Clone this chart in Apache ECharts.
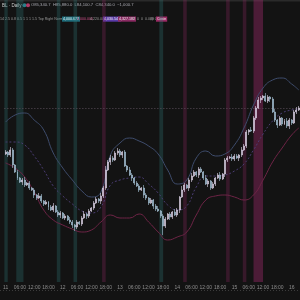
<!DOCTYPE html>
<html><head><meta charset="utf-8">
<script src="https://cdn.jsdelivr.net/npm/echarts@6/dist/echarts.min.js"></script>
<style>html,body{margin:0;padding:0;background:#131313;}#c{width:300px;height:300px;}</style>
</head><body><div id="c"></div>
<script>
// ---- data ----
const days = ['11','12','13','14','15','16'];
const hours = ['00','01','02','03','04','05','06','07','08','09','10','11','12','13','14','15','16','17','18','19','20','21','22','23'];
const firstOpen = 83200;
const closes = [83250,83175,83300,82925,82750,82600,82500,82550,82425,82475,
82350,82300,82175,82100,82150,82025,81950,82000,81875,81800,
81900,81750,81675,81725,81600,81650,81550,81500,81425,81375,
81500,81450,81600,81700,81650,81775,81850,81975,82075,82025,
82150,82350,82800,83000,83100,83050,83225,83275,83175,83250,
82900,82800,82675,82600,82475,82400,82300,82350,82175,82100,
81975,82050,81900,81825,81775,81650,81400,81575,81700,81625,
81750,81675,81800,82125,82300,82425,82350,82550,82650,82750,
82675,82825,82750,82600,82450,82525,82350,82450,82600,82675,
82575,82700,83050,83100,83125,83075,83150,83100,83175,83300,
83400,83750,83800,83775,84100,84350,84550,84600,84650,84525,
84625,84575,84250,84050,83925,84100,83950,84025,83900,84050,
83975,84250,84300,84350];
const upWick = [50,25,75,50,25,50,25,50,75,25, 50,25,50,25,75,50,25,50,25,50,
75,25,50,50,25,50,25,75,50,25, 50,25,50,75,25,50,25,50,50,25,
75,50,100,50,75,50,50,75,50,25, 50,25,75,50,25,50,50,25,75,50,
25,50,25,50,75,25,50,50,25,50, 25,75,50,25,100,50,25,50,75,50,
25,50,50,25,75,50,25,50,25,50, 75,25,50,50,25,75,50,50,25,75,
50,50,25,75,50,50,75,50,25,75, 50,25,50,75,25,50,25,50,75,50, 25,50,75,50];
const lowWick = [25,50,50,75,25,50,25,75,50,25, 50,25,75,50,25,50,50,25,75,25,
50,25,50,75,25,50,25,50,75,100, 50,25,50,25,75,50,25,50,25,50,
75,50,50,25,75,50,25,50,50,75, 25,50,25,75,50,25,50,25,75,50,
50,25,75,50,25,50,225,50,25,75, 50,25,50,75,25,50,25,75,50,25,
50,75,25,50,25,75,50,25,50,25, 50,25,75,50,25,50,50,25,75,50,
25,50,75,25,50,50,25,75,50,25, 50,75,25,50,75,25,50,25,50,75, 50,25,50,25];
const bandIdx = [0,4,8,12,16,20,24,28,32,36,40,44,48,52,56,60,64,68,72,76,80,84,88,92,96,100,104,108,112,116,120,123];
const upperBand = [84000,84175,84225,84050,83800,83225,82850,82550,82275,82125,82250,83175,83475,83600,83525,83400,83200,82800,82450,82550,83100,83275,83150,83200,83425,83850,84425,84850,85050,85100,84950,84800];
const lowerBand = [82975,82850,82625,82250,81800,81550,81425,81325,81250,81300,81500,81675,81600,81600,81700,81500,81250,81050,81125,81250,81675,82050,82150,82175,82125,82050,82175,82550,83000,83350,83675,83850];
const midBand = [83500,83500,83425,83150,82800,82400,82150,81950,81775,81725,81875,82425,82550,82600,82625,82450,82225,81925,81800,81900,82375,82650,82650,82675,82775,82950,83300,83700,84025,84225,84300,84325];
// highlighted sessions: [from candle, to candle, kind]
const stripes = [[0,0.4,'t'],[5,7,'t'],[22,22.5,'t'],[29,29.5,'t'],[41,41.5,'p'],[65,65.6,'t'],[75,75.5,'p'],[93,93.5,'p'],[100,100.5,'p'],[104.5,107.5,'P']];

// ---- build ----
const cats = [];
days.forEach(d => hours.forEach(h => cats.push(d + ' ' + h)));
const categories = cats.slice(0, closes.length);
const ohlc = closes.map((c, i) => {
  const o = i === 0 ? firstOpen : closes[i - 1];
  return [o, c, Math.min(o, c) - lowWick[i], Math.max(o, c) + upWick[i]];
});
const pair = arr => arr.map((v, k) => [bandIdx[k], v]);
const stripeColor = {t:'rgba(45,120,120,0.30)', p:'rgba(140,40,95,0.30)', P:'rgba(155,40,105,0.42)'};
const markData = stripes.map(s => [{xAxis: s[0] - 0.5, itemStyle:{color: stripeColor[s[2]]}}, {xAxis: s[1] + 0.5}]);

const chart = echarts.init(document.getElementById('c'), null, {renderer:'canvas'});
chart.setOption({
  backgroundColor: '#131313',
  animation: false,
  grid: {left: 0, right: 0, top: 0, bottom: 18},
  xAxis: [{
    type: 'category', data: categories, boundaryGap: true,
    axisLine: {show: false}, axisTick: {show: false}, splitLine: {show: false},
    axisLabel: {interval: 5, color: '#8e8e8e', fontSize: 5, margin: 3, fontFamily: 'Liberation Sans',
      formatter: v => { const p = v.split(' '); return p[1] === '00' ? p[0] : p[1] + ':00'; }}
  }, {
    type: 'value', min: -0.5, max: closes.length - 0.5, show: false
  }],
  yAxis: {type: 'value', min: 80000, max: 87050, show: false, splitLine: {show: false}},
  series: [
    {type: 'line', xAxisIndex: 1, data: pair(lowerBand), stack: 'bb', smooth: true, symbol: 'none',
      lineStyle: {opacity: 0}, z: 1,
      markArea: {silent: true, data: markData}},
    {type: 'line', xAxisIndex: 1, data: pair(upperBand.map((u, k) => u - lowerBand[k])), stack: 'bb', smooth: true, symbol: 'none',
      lineStyle: {opacity: 0}, areaStyle: {color: 'rgba(90,60,150,0.26)'}, z: 1},
    {type: 'line', xAxisIndex: 1, data: pair(upperBand), smooth: true, symbol: 'none',
      lineStyle: {color: '#3e4c6c', width: 1}, z: 3},
    {type: 'line', xAxisIndex: 1, data: pair(lowerBand), smooth: true, symbol: 'none',
      lineStyle: {color: '#6e2446', width: 1}, z: 3},
    {type: 'line', xAxisIndex: 1, data: pair(midBand), smooth: true, symbol: 'none',
      lineStyle: {color: '#4a3c72', width: 1, type: [2, 2]}, z: 3},
    {type: 'candlestick', data: ohlc, barWidth: '62%', z: 5,
      itemStyle: {color: '#ddd3e8', color0: '#a8c4d8', borderColor: '#ddd3e8', borderColor0: '#a8c4d8', borderWidth: 0.6},
      markLine: {silent: true, symbol: 'none', label: {show: false},
        lineStyle: {color: '#5a4e5a', type: [1, 2], width: 1},
        data: [{yAxis: closes[closes.length - 1]}]}}
  ],
  graphic: [
    {type: 'rect', shape: {x: 0, y: 0, width: 300, height: 1.5}, style: {fill: '#2a2a2a'}},
    {type: 'text', x: 2, y: 3, style: {text: 'BL · Daily', fill: '#cfcfcf', fontSize: 4.5, fontFamily: 'Liberation Sans'}},
    {type: 'circle', shape: {cx: 24.5, cy: 5.2, r: 2}, style: {fill: '#2a7f8a'}},
    {type: 'circle', shape: {cx: 28, cy: 5.2, r: 2}, style: {fill: '#b03a64'}},
    {type: 'text', x: 31, y: 3, style: {text: 'O85,340.7  H85,880.0  L84,100.7  C84,340.0  −1,000.7', fill: '#a8a8b0', fontSize: 4.2, fontFamily: 'Liberation Sans'}},
    {type: 'text', x: 0, y: 17, style: {text: '14 2.5 0.8 0.5 1 1 1 1.5 Top Right Normal', fill: '#9a9a9a', fontSize: 3.6, fontFamily: 'Liberation Sans'}},
    {type: 'text', x: 62, y: 16.5, style: {text: '4,000.677', fill: '#e8f4f8', backgroundColor: '#1f6c7a', padding: [0.6, 1], fontSize: 3.6, fontFamily: 'Liberation Sans'}},
    {type: 'text', x: 77, y: 17, style: {text: '4,000.000', fill: '#d0508a', fontSize: 3.6, fontFamily: 'Liberation Sans'}},
    {type: 'text', x: 90, y: 17, style: {text: '4,220.000', fill: '#9a9a9a', fontSize: 3.6, fontFamily: 'Liberation Sans'}},
    {type: 'text', x: 103, y: 16.5, style: {text: '4,030.544', fill: '#eee', backgroundColor: '#5a3aa8', padding: [0.6, 1], fontSize: 3.6, fontFamily: 'Liberation Sans'}},
    {type: 'text', x: 118, y: 16.5, style: {text: '4,327.182', fill: '#eee', backgroundColor: '#8a2a62', padding: [0.6, 1], fontSize: 3.6, fontFamily: 'Liberation Sans'}},
    {type: 'text', x: 133, y: 17, style: {text: '0  0  0  0.000  0  0', fill: '#9a9a9a', fontSize: 3.6, fontFamily: 'Liberation Sans'}},
    {type: 'text', x: 150, y: 17, style: {text: '@ 0', fill: '#9a9a9a', fontSize: 3.6, fontFamily: 'Liberation Sans'}},
    {type: 'text', x: 156, y: 16.5, style: {text: 'Cosin', fill: '#eee', backgroundColor: '#9a2a64', padding: [0.6, 1], fontSize: 3.6, fontFamily: 'Liberation Sans'}},
    {type: 'line', shape: {x1: 0, y1: 290.5, x2: 300, y2: 290.5}, style: {stroke: '#3c3c3c', lineWidth: 1, lineDash: [1, 2]}}
  ]
});
</script></body></html>
